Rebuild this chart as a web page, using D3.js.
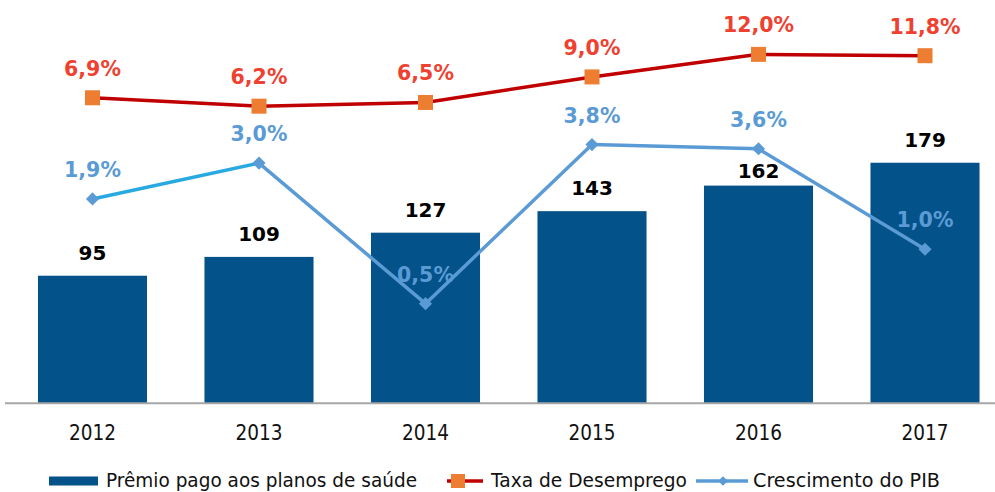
<!DOCTYPE html>
<html>
<head>
<meta charset="utf-8">
<script src="https://cdn.jsdelivr.net/npm/d3@7"></script>
<style>
  html, body { margin: 0; padding: 0; background: #fff; overflow: hidden; }
  svg { display: block; font-family: "DejaVu Sans", Verdana, sans-serif; }
</style>
</head>
<body>
<div id="chart"></div>
<script>
// Chart data
const years = ["2012", "2013", "2014", "2015", "2016", "2017"];
const premio = [95, 109, 127, 143, 162, 179];
const desemprego = [6.9, 6.2, 6.5, 9.0, 12.0, 11.8];
const pib = [1.9, 3.0, 0.5, 3.8, 3.6, 1.0];
const desempregoLabels = ["6,9%", "6,2%", "6,5%", "9,0%", "12,0%", "11,8%"];
const pibLabels = ["1,9%", "3,0%", "0,5%", "3,8%", "3,6%", "1,0%"];
const legendLabels = ["Prêmio pago aos planos de saúde", "Taxa de Desemprego", "Crescimento do PIB"];

// Colours
const BAR_COLOUR = "#03528a";
const RED_LINE = "#c00000";
const ORANGE_MARK = "#ed7d31";
const RED_LABEL = "#ef4130";
const BLUE_LINE = "#5b9bd5";
const CYAN_LINE = "#29a9e1";

/**
 * @function condense
 * @description Squeeze text horizontally to imitate a narrower face
 */
function condense(sel, factor) {
  sel.each(function () {
    const w = this.getComputedTextLength();
    d3.select(this)
      .attr("textLength", w * factor)
      .attr("lengthAdjust", "spacingAndGlyphs");
  });
}

function drawChart() {
  const width = 995;
  const height = 492;
  const plotTop = 0;
  const plotBottom = 403.5;

  const svg = d3
    .select("#chart")
    .append("svg")
    .attr("width", width)
    .attr("height", height);

  // Scales
  const x = d3
    .scaleBand()
    .domain(years)
    .range([9.25, 1008.25])
    .paddingInner(0.345)
    .paddingOuter(0.1725);
  const cx = (d) => x(d) + x.bandwidth() / 2;

  const yBar = d3.scaleLinear().domain([0, 300]).range([plotBottom, plotTop]);

  // both lines share a hidden log axis
  const yLine = d3.scaleLog().domain([0.14, 24]).range([plotBottom, plotTop]);

  // Bars
  svg
    .selectAll(".bar")
    .data(years)
    .enter()
    .append("rect")
    .attr("class", "bar")
    .attr("x", (d) => x(d))
    .attr("y", (d, i) => yBar(premio[i]))
    .attr("width", x.bandwidth())
    .attr("height", (d, i) => plotBottom - yBar(premio[i]))
    .attr("fill", BAR_COLOUR);

  // Bar labels (2016 label nudged down, under the GDP line)
  svg
    .selectAll(".bar-label")
    .data(years)
    .enter()
    .append("text")
    .attr("class", "bar-label")
    .attr("x", (d) => cx(d))
    .attr("y", (d, i) => yBar(premio[i]) - (d === "2016" ? 8 : 16))
    .attr("text-anchor", "middle")
    .style("font-size", "20px")
    .style("font-weight", "bold")
    .style("fill", "#000")
    .text((d, i) => premio[i]);

  // X axis
  const xAxis = d3.axisBottom(x).tickSize(0).tickPadding(0);
  const gx = svg
    .append("g")
    .attr("class", "axis")
    .attr("transform", `translate(0, ${plotBottom})`)
    .call(xAxis);
  gx.select(".domain").remove();
  gx.append("line")
    .attr("x1", 5)
    .attr("x2", width)
    .attr("y1", -0.3)
    .attr("y2", -0.3)
    .attr("stroke", "#a6a6a6")
    .attr("stroke-width", 2);
  gx.selectAll(".tick text")
    .attr("y", 36.5)
    .attr("dy", 0)
    .style("font-family", "DejaVu Sans")
    .style("font-size", "21px")
    .style("fill", "#111");
  condense(gx.selectAll(".tick text"), 0.88);

  // Unemployment line
  const line = d3
    .line()
    .x((d, i) => cx(years[i]))
    .y((d) => yLine(d));

  svg
    .append("path")
    .datum(desemprego)
    .attr("d", line)
    .attr("fill", "none")
    .attr("stroke", RED_LINE)
    .attr("stroke-width", 3.5);

  svg
    .selectAll(".sq")
    .data(desemprego)
    .enter()
    .append("rect")
    .attr("class", "sq")
    .attr("x", (d, i) => cx(years[i]) - 7.5)
    .attr("y", (d) => yLine(d) - 7.5)
    .attr("width", 15)
    .attr("height", 15)
    .attr("fill", ORANGE_MARK);

  // GDP line, drawn segment by segment (first one is lighter)
  const segs = d3.pairs(pib.map((d, i) => [cx(years[i]), yLine(d)]));
  svg
    .selectAll(".pib-seg")
    .data(segs)
    .enter()
    .append("line")
    .attr("class", "pib-seg")
    .attr("x1", (d) => d[0][0])
    .attr("y1", (d) => d[0][1])
    .attr("x2", (d) => d[1][0])
    .attr("y2", (d) => d[1][1])
    .attr("stroke", (d, i) => (i === 0 ? CYAN_LINE : BLUE_LINE))
    .attr("stroke-width", 3.5)
    .attr("stroke-linecap", "round");

  svg
    .selectAll(".dia")
    .data(pib)
    .enter()
    .append("path")
    .attr("class", "dia")
    .attr("d", d3.symbol().type(d3.symbolDiamond2).size(110))
    .attr("transform", (d, i) => `translate(${cx(years[i])}, ${yLine(d)})`)
    .attr("fill", BLUE_LINE);

  // Line labels
  svg
    .selectAll(".des-label")
    .data(desemprego)
    .enter()
    .append("text")
    .attr("class", "des-label")
    .attr("x", (d, i) => cx(years[i]))
    .attr("y", (d) => yLine(d) - 22)
    .attr("text-anchor", "middle")
    .style("font-size", "20.5px")
    .style("font-weight", "bold")
    .style("fill", RED_LABEL)
    .text((d, i) => desempregoLabels[i]);

  svg
    .selectAll(".pib-label")
    .data(pib)
    .enter()
    .append("text")
    .attr("class", "pib-label")
    .attr("x", (d, i) => cx(years[i]))
    .attr("y", (d) => yLine(d) - 22)
    .attr("text-anchor", "middle")
    .style("font-size", "20.5px")
    .style("font-weight", "bold")
    .style("fill", BLUE_LINE)
    .text((d, i) => pibLabels[i]);

  // Legend
  const legend = svg.append("g").attr("class", "legend");
  const legendY = 481;

  legend
    .append("rect")
    .attr("x", 49)
    .attr("y", legendY - 4.5)
    .attr("width", 49)
    .attr("height", 9)
    .attr("fill", BAR_COLOUR);

  legend
    .append("line")
    .attr("x1", 447)
    .attr("x2", 483)
    .attr("y1", legendY)
    .attr("y2", legendY)
    .attr("stroke", RED_LINE)
    .attr("stroke-width", 3.5);
  legend
    .append("rect")
    .attr("x", 458 - 7)
    .attr("y", legendY - 7)
    .attr("width", 14)
    .attr("height", 14)
    .attr("fill", ORANGE_MARK);

  legend
    .append("line")
    .attr("x1", 696)
    .attr("x2", 748)
    .attr("y1", legendY)
    .attr("y2", legendY)
    .attr("stroke", BLUE_LINE)
    .attr("stroke-width", 3.5);
  legend
    .append("path")
    .attr("d", d3.symbol().type(d3.symbolDiamond2).size(60))
    .attr("transform", `translate(723, ${legendY})`)
    .attr("fill", BLUE_LINE);

  const legendX = [106, 491, 753];
  const legendW = [311, 196, 187];
  legend
    .selectAll(".legend-text")
    .data(legendLabels)
    .enter()
    .append("text")
    .attr("class", "legend-text")
    .attr("x", (d, i) => legendX[i])
    .attr("y", legendY + 5.5)
    .style("font-size", "20px")
    .style("fill", "#111")
    .attr("textLength", (d, i) => legendW[i])
    .attr("lengthAdjust", "spacingAndGlyphs")
    .text((d) => d);
}

drawChart();
</script>
</body>
</html>
